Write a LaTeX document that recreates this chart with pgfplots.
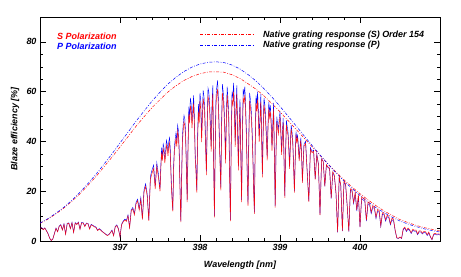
\documentclass[border=0pt]{standalone}
\usepackage{fontspec}
\setmainfont{Liberation Sans}
\usepackage{pgfplots}
\pgfplotsset{compat=1.18}
\usepackage{pgfplotstable}
\pgfplotstableread{
x P S
396.00 5.2 5.1
396.02 5.4 5.3
396.04 4.6 4.5
396.06 5.3 5.2
396.08 4.2 4.1
396.10 3.0 2.9
396.12 1.2 1.2
396.14 0.2 0.2
396.16 0.8 0.8
396.18 3.0 2.9
396.20 5.2 5.1
396.22 3.8 3.7
396.24 6.0 5.9
396.26 6.6 6.4
396.28 4.5 4.4
396.30 6.9 6.7
396.32 2.8 2.7
396.34 7.1 6.9
396.36 7.3 7.1
396.38 5.0 4.9
396.40 7.5 7.3
396.42 3.5 3.4
396.44 7.4 7.2
396.46 6.8 6.6
396.48 7.6 7.4
396.50 4.8 4.7
396.52 7.5 7.3
396.54 7.4 7.2
396.56 6.0 5.8
396.58 7.2 7.0
396.60 7.1 6.9
396.62 5.0 4.8
396.64 6.7 6.5
396.66 6.3 6.1
396.68 5.9 5.7
396.70 5.6 5.4
396.72 4.3 4.2
396.74 5.0 4.8
396.76 4.5 4.3
396.78 3.8 3.7
396.80 3.3 3.2
396.82 2.8 2.7
396.84 2.3 2.2
396.86 2.6 2.5
396.88 3.4 3.3
396.90 4.4 4.2
396.92 2.2 2.1
396.94 5.8 5.6
396.96 6.5 6.2
396.98 5.0 4.8
397.00 1.8 1.7
397.02 6.8 6.5
397.04 8.0 7.7
397.06 8.8 8.4
397.08 8.2 7.9
397.10 10.5 10.1
397.12 5.5 5.3
397.14 12.5 12.0
397.16 13.5 12.9
397.18 11.0 10.5
397.20 15.5 14.8
397.22 16.8 16.1
397.24 13.0 12.4
397.26 17.5 16.7
397.28 9.0 8.6
397.30 20.5 19.6
397.32 23.0 21.9
397.34 19.0 18.1
397.36 8.5 8.1
397.38 26.0 24.8
397.40 28.5 27.2
397.42 30.5 29.0
397.44 22.0 20.9
397.46 31.5 30.0
397.48 27.0 25.7
397.50 21.0 20.0
397.51 30.0 28.5
397.52 37.5 35.6
397.53 34.0 32.3
397.54 39.0 37.0
397.55 37.5 35.6
397.56 33.0 31.3
397.57 36.0 34.2
397.58 40.5 38.4
397.59 39.0 37.0
397.60 36.0 34.2
397.61 40.0 38.0
397.62 41.5 39.4
397.63 36.0 34.2
397.64 25.0 23.7
397.65 18.0 17.1
397.66 12.5 11.9
397.67 30.0 28.5
397.68 38.0 36.0
397.69 41.0 38.9
397.70 43.5 41.2
397.71 40.0 37.9
397.72 46.5 44.1
397.73 44.5 42.2
397.74 37.0 35.1
397.75 22.0 20.8
397.76 8.0 7.6
397.77 25.0 23.7
397.78 42.0 39.8
397.79 47.0 44.5
397.80 50.5 47.8
397.81 49.0 46.4
397.82 44.0 41.6
397.83 30.0 28.4
397.84 16.5 15.6
397.85 38.0 36.0
397.86 54.0 51.1
397.87 50.0 47.3
397.88 57.5 54.4
397.89 55.0 52.0
397.90 48.0 45.4
397.91 53.0 50.1
397.92 58.5 55.3
397.93 50.0 47.3
397.94 35.0 33.1
397.95 29.0 27.4
397.96 20.5 19.4
397.97 42.0 39.7
397.98 55.0 52.0
397.99 50.0 47.3
398.00 59.5 56.2
398.01 56.0 52.9
398.02 42.0 39.7
398.03 52.0 49.1
398.04 60.5 57.2
398.05 58.0 54.8
398.06 52.0 49.1
398.07 40.0 37.8
398.08 28.0 26.5
398.09 48.0 45.4
398.10 61.5 58.1
398.11 60.0 56.7
398.12 56.0 52.9
398.13 47.0 44.4
398.14 38.0 35.9
398.15 55.0 52.0
398.16 62.5 59.1
398.17 35.0 33.1
398.18 10.0 9.5
398.19 38.0 35.9
398.20 58.0 54.8
398.21 62.0 58.6
398.22 64.5 61.0
398.23 57.0 53.9
398.24 45.0 42.5
398.25 33.0 31.2
398.26 21.5 20.3
398.27 48.0 45.4
398.28 63.0 59.5
398.29 60.0 56.7
398.30 55.0 52.0
398.31 46.0 43.5
398.32 33.0 31.2
398.33 52.0 49.1
398.34 62.0 58.6
398.35 57.0 53.9
398.36 50.0 47.3
398.37 28.0 26.5
398.38 8.5 8.0
398.39 40.0 37.8
398.40 60.0 56.7
398.41 58.0 54.8
398.42 63.5 60.0
398.43 55.0 52.0
398.44 40.0 37.8
398.45 54.0 51.0
398.46 62.5 59.1
398.47 46.0 43.5
398.48 30.0 28.4
398.49 48.0 45.4
398.50 57.0 53.9
398.51 36.0 34.0
398.52 16.5 15.6
398.53 44.0 41.6
398.54 61.0 57.6
398.55 59.0 55.8
398.56 62.0 58.6
398.57 55.0 52.0
398.58 44.0 41.6
398.59 28.0 26.5
398.60 15.0 14.2
398.61 42.0 39.7
398.62 59.5 56.3
398.63 57.0 53.9
398.64 53.0 50.2
398.65 46.0 43.5
398.66 36.0 34.1
398.67 22.0 20.8
398.68 11.5 10.9
398.69 40.0 37.9
398.70 58.5 55.4
398.71 55.0 52.1
398.72 60.0 56.9
398.73 52.0 49.3
398.74 42.0 39.8
398.75 50.0 47.5
398.76 59.0 56.0
398.77 44.0 41.8
398.78 27.0 25.6
398.79 46.0 43.7
398.80 57.5 54.6
398.81 55.0 52.3
398.82 50.0 47.6
398.83 43.0 40.9
398.84 34.0 32.4
398.85 47.0 44.8
398.86 56.0 53.3
398.87 52.0 49.6
398.88 54.5 52.0
398.89 48.0 45.8
398.90 38.0 36.3
398.91 47.0 44.9
398.92 55.5 53.0
398.93 35.0 33.4
398.94 14.0 13.4
398.95 36.0 34.4
398.96 50.0 47.8
398.97 47.0 45.0
398.98 45.0 43.0
398.99 49.0 47.0
399.00 52.0 49.9
399.01 45.0 43.2
399.02 36.0 34.6
399.03 44.0 42.3
399.04 49.5 47.6
399.05 34.0 32.7
399.06 18.0 17.3
399.07 36.0 34.7
399.08 48.5 46.6
399.09 46.0 44.3
399.10 44.0 42.5
399.11 38.0 36.7
399.12 30.0 29.0
399.13 40.0 38.7
399.14 46.5 45.0
399.15 44.0 42.6
399.16 40.0 38.7
399.17 31.0 30.0
399.18 20.0 19.4
399.19 33.0 32.0
399.20 44.0 42.7
399.21 41.0 39.8
399.22 42.5 41.3
399.23 38.0 36.9
399.24 33.0 32.1
399.25 38.0 37.0
399.26 41.5 40.4
399.27 35.0 34.2
399.28 24.0 23.4
399.29 32.0 31.3
399.30 39.0 38.1
399.32 40.0 39.2
399.34 28.0 27.4
399.36 16.0 15.7
399.38 37.5 36.8
399.40 36.0 35.5
399.42 36.5 36.0
399.44 25.0 24.7
399.46 35.0 34.6
399.48 31.0 30.8
399.50 10.5 10.4
399.52 33.0 32.9
399.54 32.0 32.0
399.56 22.0 22.0
399.58 30.5 30.6
399.60 29.5 29.7
399.62 29.0 29.3
399.64 17.0 17.2
399.66 27.5 27.9
399.68 26.0 26.4
399.70 19.0 19.3
399.72 3.5 3.6
399.74 25.5 26.0
399.76 22.0 22.4
399.78 4.0 4.1
399.80 23.5 24.0
399.82 22.5 23.0
399.84 14.0 14.3
399.86 3.8 3.9
399.88 20.5 21.0
399.90 20.0 20.6
399.92 15.0 15.5
399.94 19.0 19.6
399.96 12.0 12.4
399.98 18.0 18.7
400.00 5.5 5.7
400.02 17.0 17.7
400.04 16.5 17.2
400.06 16.0 16.7
400.08 8.0 8.3
400.10 15.0 15.7
400.12 14.5 15.2
400.14 11.0 11.5
400.16 13.5 14.2
400.18 13.0 13.7
400.20 9.0 9.5
400.22 12.0 12.7
400.24 11.5 12.2
400.26 5.8 6.1
400.28 10.8 11.4
400.30 10.5 11.1
400.32 8.0 8.5
400.34 9.8 10.4
400.36 9.4 10.0
400.38 6.5 6.9
400.40 8.6 9.2
400.42 8.0 8.6
400.44 4.0 4.3
400.46 1.2 1.3
400.48 1.0 1.1
400.50 1.5 1.6
400.52 1.0 1.1
400.54 4.5 4.9
400.56 5.2 5.6
400.58 3.8 4.1
400.60 4.8 5.2
400.62 4.2 4.6
400.64 3.0 3.3
400.66 4.3 4.7
400.68 3.9 4.3
400.70 4.0 4.4
400.72 2.5 2.8
400.74 3.7 4.1
400.76 3.6 4.0
400.78 2.8 3.1
400.80 3.5 3.9
400.82 3.3 3.7
400.84 2.2 2.5
400.86 3.2 3.6
400.88 1.6 1.8
400.90 0.5 0.6
400.92 2.5 2.8
400.94 2.8 3.1
400.96 2.4 2.7
400.98 2.6 2.9
401.00 2.4 2.7
}\spec
\pgfplotstableread{
x P S
396.0 7.2 7.1
396.1 9.0 8.8
396.2 11.2 10.9
396.3 13.6 13.3
396.4 16.4 16.0
396.5 19.6 19.0
396.6 23.1 22.4
396.7 26.8 25.9
396.8 30.9 29.8
396.9 35.0 33.7
397.0 39.4 37.8
397.1 43.7 41.9
397.2 48.1 46.1
397.3 52.2 49.9
397.4 56.2 53.6
397.5 59.8 56.8
397.6 63.1 59.9
397.7 65.8 62.4
397.8 68.1 64.5
397.9 69.9 66.1
398.0 71.1 67.2
398.1 71.8 67.9
398.2 72.0 68.0
398.3 71.7 67.8
398.4 70.7 66.8
398.5 69.1 65.3
398.6 66.9 63.2
398.7 64.3 61.0
398.8 61.2 58.3
398.9 57.8 55.2
399.0 54.1 51.9
399.1 50.2 48.4
399.2 46.3 44.9
399.3 42.3 41.4
399.4 38.4 37.9
399.5 34.6 34.4
399.6 30.9 31.0
399.7 27.4 27.7
399.8 24.1 24.6
399.9 21.1 21.7
400.0 18.3 19.0
400.1 15.7 16.5
400.2 13.4 14.2
400.3 11.4 12.1
400.4 9.6 10.3
400.5 8.0 8.6
400.6 6.8 7.4
400.7 5.8 6.3
400.8 4.9 5.4
400.9 4.2 4.7
401.0 3.6 4.0
}\env
\newcommand\lblfont{\fontsize{9}{10}\selectfont\bfseries\itshape}
\begin{document}
\begin{tikzpicture}
\useasboundingbox (0,0) rectangle (461bp,277bp);
\begin{axis}[
  at={(40bp,36bp)}, anchor=south west,
  scale only axis, width=400bp, height=224bp,
  xmin=396, xmax=401, ymin=0, ymax=90,
  xtick={397,398,399,400}, ytick={0,20,40,60,80},
  minor x tick num=4, minor y tick num=3,
  tick align=inside, major tick length=6bp, minor tick length=3bp,
  every tick/.style={black, line width=0.5pt},
  axis line style={line width=0.6pt},
  /pgf/number format/assume math mode=true,
  /pgf/number format/1000 sep={},
  tick label style={font=\lblfont},
  label style={font=\lblfont},
  xlabel={Wavelength [nm]}, ylabel={Blaze efficiency [\%]},
  xlabel style={at={(axis description cs:0.5,-0.107)}, anchor=center},
  ylabel style={at={(axis description cs:-0.0625,0.5)}, anchor=center},
  legend style={at={(axis cs:398,84.9)}, anchor=north west, draw=none, fill=none,
    inner sep=0pt, row sep=1.0bp, column sep=9bp, font=\lblfont,
    nodes={inner sep=0.5bp, text height=7bp, text depth=1.5bp}},
  legend cell align=left,
  legend image code/.code={\draw[#1] (0bp,0bp) -- (53bp,0bp);},
]
\addplot[red, line width=0.5pt, dash pattern=on 3bp off 1.5bp on 0.8bp off 1.5bp] table[x=x,y=S] {\env};
\addlegendentry{Native grating response (S) Order 154}
\addplot[blue, line width=0.5pt, dash pattern=on 3bp off 1.5bp on 0.8bp off 1.5bp] table[x=x,y=P] {\env};
\addlegendentry{Native grating response (P)}
\addplot[blue, line width=0.4pt, forget plot] table[x=x,y=P] {\spec};
\addplot[red, line width=0.5pt, opacity=0.9, forget plot] table[x=x,y=S] {\spec};
\node[anchor=west, text=red, font=\lblfont, inner sep=0pt] at (axis cs:396.2125,82.4) {S Polarization};
\node[anchor=west, text=blue, font=\lblfont, inner sep=0pt] at (axis cs:396.2125,78.3) {P Polarization};
\end{axis}
\end{tikzpicture}
\end{document}
